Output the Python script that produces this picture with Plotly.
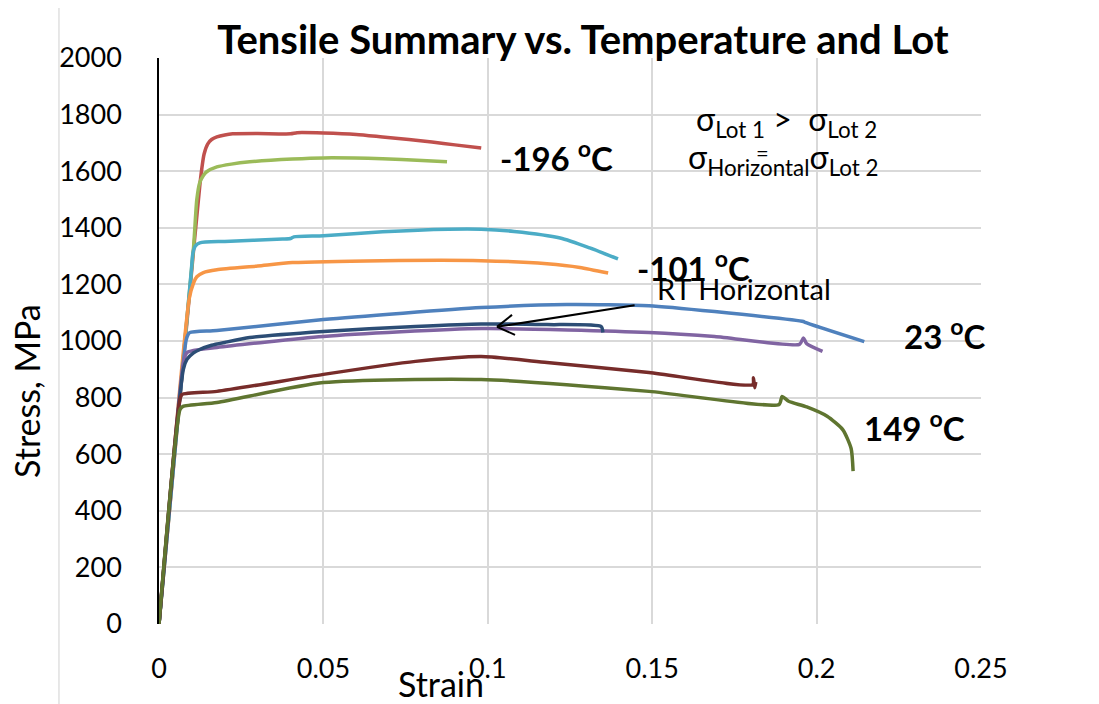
import plotly.graph_objects as go

# ---------------- data ----------------
red_196_strain = [0, 0.0094, 0.0125, 0.0137, 0.0148, 0.016, 0.0176, 0.02, 0.0224, 0.03, 0.04, 0.042, 0.05, 0.06, 0.068, 0.076, 0.083, 0.09, 0.098]
red_196_stress = [0, 1180, 1560, 1660, 1696, 1712, 1721, 1728, 1732, 1733, 1732, 1736, 1735, 1730, 1721, 1712, 1703, 1693, 1682]

grn_196_strain = [0, 0.0105, 0.0115, 0.0124, 0.0135, 0.0145, 0.0176, 0.022, 0.0276, 0.0406, 0.05, 0.068, 0.08, 0.0876]
grn_196_stress = [0, 1330, 1500, 1560, 1585, 1598, 1615, 1625, 1633, 1643, 1647, 1644, 1638, 1633]

cyan_101_strain = [0, 0.0098, 0.0103, 0.011, 0.0124, 0.02, 0.0376, 0.040, 0.041, 0.05, 0.068, 0.088, 0.098, 0.108, 0.122, 0.131, 0.1396]
cyan_101_stress = [0, 1245, 1310, 1335, 1347, 1352, 1360, 1362, 1368, 1372, 1386, 1395, 1395, 1387, 1364, 1329, 1290]

orng_101_strain = [0, 0.0092, 0.0105, 0.0115, 0.0135, 0.0176, 0.03, 0.0406, 0.068, 0.098, 0.118, 0.128, 0.1366]
orng_101_stress = [0, 1150, 1205, 1227, 1242, 1252, 1265, 1277, 1284, 1284, 1273, 1260, 1240]

blue_23_strain = [0, 0.0082, 0.0088, 0.0094, 0.0176, 0.05, 0.098, 0.124, 0.149, 0.169, 0.196, 0.1965, 0.2145]
blue_23_stress = [0, 1000, 1022, 1030, 1037, 1076, 1118, 1129, 1125, 1104, 1069, 1066, 998]

navy_rt_strain = [0, 0.0074, 0.0085, 0.0105, 0.0124, 0.016, 0.02, 0.0276, 0.05, 0.078, 0.098, 0.118, 0.1345, 0.135]
navy_rt_stress = [0, 900, 935, 958, 970, 985, 995, 1012, 1034, 1051, 1060, 1058, 1051, 1030]

purp_23_strain = [0, 0.0074, 0.0085, 0.0176, 0.05, 0.098, 0.149, 0.169, 0.1948, 0.196, 0.197, 0.2018]
purp_23_stress = [0, 920, 959, 977, 1016, 1044, 1030, 1016, 988, 1011, 990, 963]

dred_149_strain = [0, 0.0063, 0.007, 0.0176, 0.05, 0.078, 0.098, 0.118, 0.149, 0.1806, 0.1808, 0.1812, 0.1815]
dred_149_stress = [0, 790, 811, 822, 882, 928, 945, 924, 889, 846, 870, 835, 855]

olive_149_strain = [0, 0.0064, 0.0073, 0.0176, 0.05, 0.098, 0.149, 0.1886, 0.1895, 0.1915, 0.197, 0.2032, 0.208, 0.2105, 0.2111]
olive_149_stress = [0, 758, 769, 783, 853, 864, 822, 776, 804, 787, 767, 734, 686, 620, 540]

x_ticks = [0, 0.05, 0.1, 0.15, 0.2, 0.25]
x_tick_labels = ["0", "0.05", "0.1", "0.15", "0.2", "0.25"]
y_ticks = [0, 200, 400, 600, 800, 1000, 1200, 1400, 1600, 1800, 2000]

FONT = "Lato"

series = [
    ("-196 Lot 1", red_196_strain, red_196_stress, "#c0504d"),
    ("-196 Lot 2", grn_196_strain, grn_196_stress, "#9bbb59"),
    ("-101 Lot 1", cyan_101_strain, cyan_101_stress, "#4bacc6"),
    ("-101 Lot 2", orng_101_strain, orng_101_stress, "#f79646"),
    ("23 Lot 1", blue_23_strain, blue_23_stress, "#4f81bd"),
    ("23 Lot 2", purp_23_strain, purp_23_stress, "#8064a2"),
    ("RT Horizontal", navy_rt_strain, navy_rt_stress, "#2c4d75"),
    ("149 Lot 1", dred_149_strain, dred_149_stress, "#772c2a"),
    ("149 Lot 2", olive_149_strain, olive_149_stress, "#5f7530"),
]

fig = go.Figure()
for name, xs, ys, col in series:
    fig.add_trace(go.Scatter(x=xs, y=ys, mode="lines", name=name,
                             line=dict(color=col, width=3.5, shape="spline", smoothing=0.6)))

# page body adds an 8px offset, so margins are reduced by 8px on left/top
fig.update_layout(
    width=1099, height=704,
    margin=dict(l=151, r=126, t=50, b=88),
    plot_bgcolor="white", paper_bgcolor="white",
    showlegend=False,
    font=dict(family=FONT, color="black"),
    title=dict(text="<b>Tensile Summary vs. Temperature and Lot</b>",
               xref="container", x=0.5232, xanchor="center",
               yref="container", y=0.9545, yanchor="middle",
               font=dict(size=40, family=FONT, color="black")),
)
fig.update_xaxes(range=[0, 0.25], tickvals=x_ticks, ticktext=x_tick_labels,
                 showgrid=True, gridcolor="#d9d9d9", gridwidth=1.5,
                 zeroline=False, showline=False, ticks="",
                 ticklabelstandoff=26, tickfont=dict(size=27, family=FONT))
fig.update_yaxes(range=[0, 2000], tickvals=y_ticks,
                 showgrid=True, gridcolor="#d9d9d9", gridwidth=1.5,
                 zeroline=False, showline=True, linecolor="black", linewidth=1.5,
                 ticks="", ticklabelstandoff=30, tickfont=dict(size=27, family=FONT))

# outer chart border
fig.add_shape(type="rect", xref="paper", yref="paper",
              x0=-0.1217, y0=-0.3, x1=1.3, y1=1.090,
              line=dict(color="#d9d9d9", width=1.2), layer="below")

# axis titles
fig.add_annotation(text="Stress, MPa", xref="paper", yref="paper",
                   x=-0.1606, y=0.4117, xanchor="center", yanchor="middle",
                   textangle=-90, showarrow=False,
                   font=dict(size=34, family=FONT))
fig.add_annotation(text="Strain", xref="paper", yref="paper",
                   x=0.343, y=-0.106, xanchor="center", yanchor="middle",
                   showarrow=False, font=dict(size=34, family=FONT))

# temperature labels
labels = [
    ("<b>-196 <sup>o</sup>C</b>", 0.1030, 1655),
    ("<b>-101 <sup>o</sup>C</b>", 0.1448, 1265),
    ("<b>23 <sup>o</sup>C</b>", 0.2260, 1025),
    ("<b>149 <sup>o</sup>C</b>", 0.2138, 700),
]
for txt, lx, ly in labels:
    fig.add_annotation(text=txt, x=lx, y=ly, xanchor="left", yanchor="middle",
                       showarrow=False, font=dict(size=33, family=FONT))

fig.add_annotation(text="RT Horizontal", x=0.1509, y=1185, xanchor="left",
                   yanchor="middle", showarrow=False, font=dict(size=29, family=FONT))

# arrow to RT Horizontal curve
fig.add_annotation(x=0.1028, y=1050, ax=0.1451, ay=1127, axref="x", ayref="y",
                   text="", showarrow=True, arrowhead=0, arrowwidth=2,
                   arrowcolor="black", standoff=0)
for dx, dy in [(15, 12), (18, -8)]:
    fig.add_shape(type="line", xref="x", yref="y", xsizemode="pixel", ysizemode="pixel",
                  xanchor=0.1028, yanchor=1050, x0=0, y0=0, x1=dx, y1=dy,
                  line=dict(color="black", width=2))

# sigma relations
fig.add_annotation(text="σ<sub>Lot 1</sub> &gt;  σ<sub>Lot 2</sub>", x=0.1907, y=1778,
                   xanchor="center", yanchor="middle", showarrow=False,
                   font=dict(size=32, family=FONT))
fig.add_annotation(text="σ<sub>Horizontal</sub>σ<sub>Lot 2</sub>", x=0.1898, y=1642,
                   xanchor="center", yanchor="middle", showarrow=False,
                   font=dict(size=32, family=FONT))
fig.add_annotation(text="=", x=0.1834, y=1665, xanchor="center", yanchor="middle",
                   showarrow=False, font=dict(size=22, family=FONT))

fig.write_html("out.html")
